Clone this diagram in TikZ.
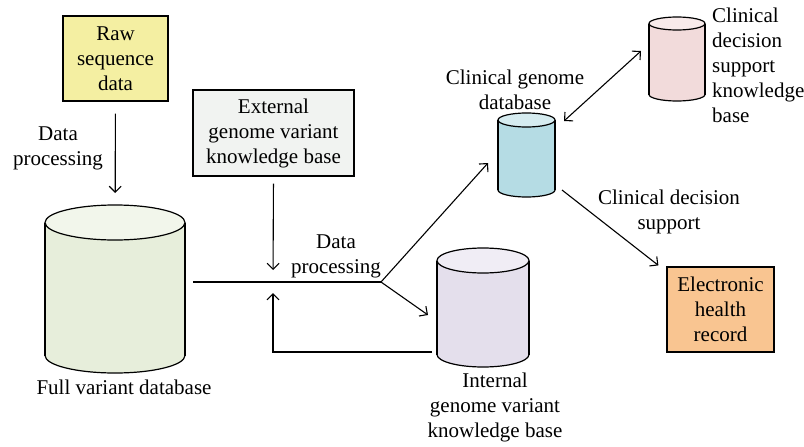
\documentclass[tikz,border=0pt]{standalone}
\usepackage{fontspec}
\setmainfont{Liberation Serif}
\usetikzlibrary{arrows.meta}
\definecolor{rawfill}{HTML}{F4EFA2}
\definecolor{extfill}{HTML}{F1F3F1}
\definecolor{fullfill}{HTML}{E7EEDB}
\definecolor{cgdbfill}{HTML}{B5DCE4}
\definecolor{cdsfill}{HTML}{F2DBDB}
\definecolor{igkfill}{HTML}{E4DFEC}
\definecolor{ehrfill}{HTML}{F9C591}
% cylinder drawn over a named node: node, fill, x radius, y radius
\newcommand\drawdb[4]{%
  \filldraw[fill=#2, line width=1.2pt] ([yshift=#4]#1.south) ellipse [x radius=#3, y radius=#4];
  \fill[#2] ([yshift=#4]#1.south west) rectangle ([yshift=-#4]#1.north east);
  \draw[line width=1.2pt] ([yshift=#4]#1.south west) -- ([yshift=-#4]#1.north west)
                          ([yshift=#4]#1.south east) -- ([yshift=-#4]#1.north east);
  \filldraw[fill=#2!55!white, line width=1.2pt] ([yshift=-#4]#1.north) ellipse [x radius=#3, y radius=#4];}

\begin{document}
\begin{tikzpicture}[x=1pt, y=-1pt,
every node/.style = {font=\fontsize{21}{25}\selectfont},
every edge/.style = {draw=black, line width=1.1pt},
            > = {Straight Barb[length=6pt,width=12pt]},
  box/.style args = {#1/#2/#3}{%
      rectangle, draw, line width=1.2pt, fill=#1,
      minimum width=#2, minimum height=#3, inner sep=0pt, align=center},
  dbase/.style args = {#1/#2}{%
      rectangle, minimum width=#1, minimum height=#2, inner sep=0pt, outer sep=0pt},
  lbl/.style = {align=center, inner sep=0pt}
                    ]
\useasboundingbox (0,0) rectangle (804,447);
\node (raw)   [box=rawfill/105pt/85pt]    at (115.5, 58.5) {Raw\\sequence\\data};
\node (ext)   [box=extfill/161pt/86pt]    at (273.5,133)   {External\\genome variant\\knowledge base};
\node (ehr)   [box=ehrfill/107pt/85pt]    at (720.5,309.5) {Electronic\\health\\record};
\node (full)  [dbase=140pt/168pt] at (115,289)     {};
\node (cgdb)  [dbase=57pt/84pt]   at (526.5,155)   {};
\node (cdskb) [dbase=56pt/84pt]   at (677,59)      {};
\node (igkb)  [dbase=92pt/119pt]  at (483,307.5)   {};
\drawdb{full}{fullfill}{70pt}{17.5pt}
\drawdb{cgdb}{cgdbfill}{28.5pt}{7pt}
\drawdb{cdskb}{cdsfill}{28pt}{6.5pt}
\drawdb{igkb}{igkfill}{46pt}{12.5pt}
 %
\coordinate (mid)  at (273,282);
\coordinate (junc) at (381,282);
 %
\node (lfull) [lbl] at (124,387)   {Full variant database};
\node (ligkb) [lbl] at (495,407)   {Internal\\genome variant\\knowledge base};
\node (lcgdb) [lbl] at (515,89.5)  {Clinical genome\\database};
\node (lcds)  [lbl, align=left, anchor=west] at (712,65) {Clinical\\decision\\support\\knowledge\\base};
\node (dp1)   [lbl] at (58,148.5)  {Data\\processing};
\node (dp2)   [lbl] at (336,256.5) {Data\\processing};
\node (dp3)   [lbl] at (669,211.5) {Clinical decision\\support};
 %
\path   (raw) edge [->, shorten <=12pt, shorten >=12pt] (full)
        (ext.south) edge [->, shorten <=7pt, shorten >=12pt] (mid)
        ([shift={(8,-7)}]full.east) edge (junc)
        (junc) edge [->] ([shift={(-10,8)}]cgdb.west)
        (junc) edge [->] ([shift={(-9,7.5)}]igkb.west)
        ([shift={(9,-34)}]cgdb.east) edge [<->] ([shift={(-8,-8)}]cdskb.west)
        ([shift={(7,35)}]cgdb.east) edge [->] ([shift={(-8,-1)}]ehr.north west);
\draw [->, line width=1.1pt, shorten >=11pt] ([shift={(-5,44.5)}]igkb.west) -| (mid);
\end{tikzpicture}
\end{document}
